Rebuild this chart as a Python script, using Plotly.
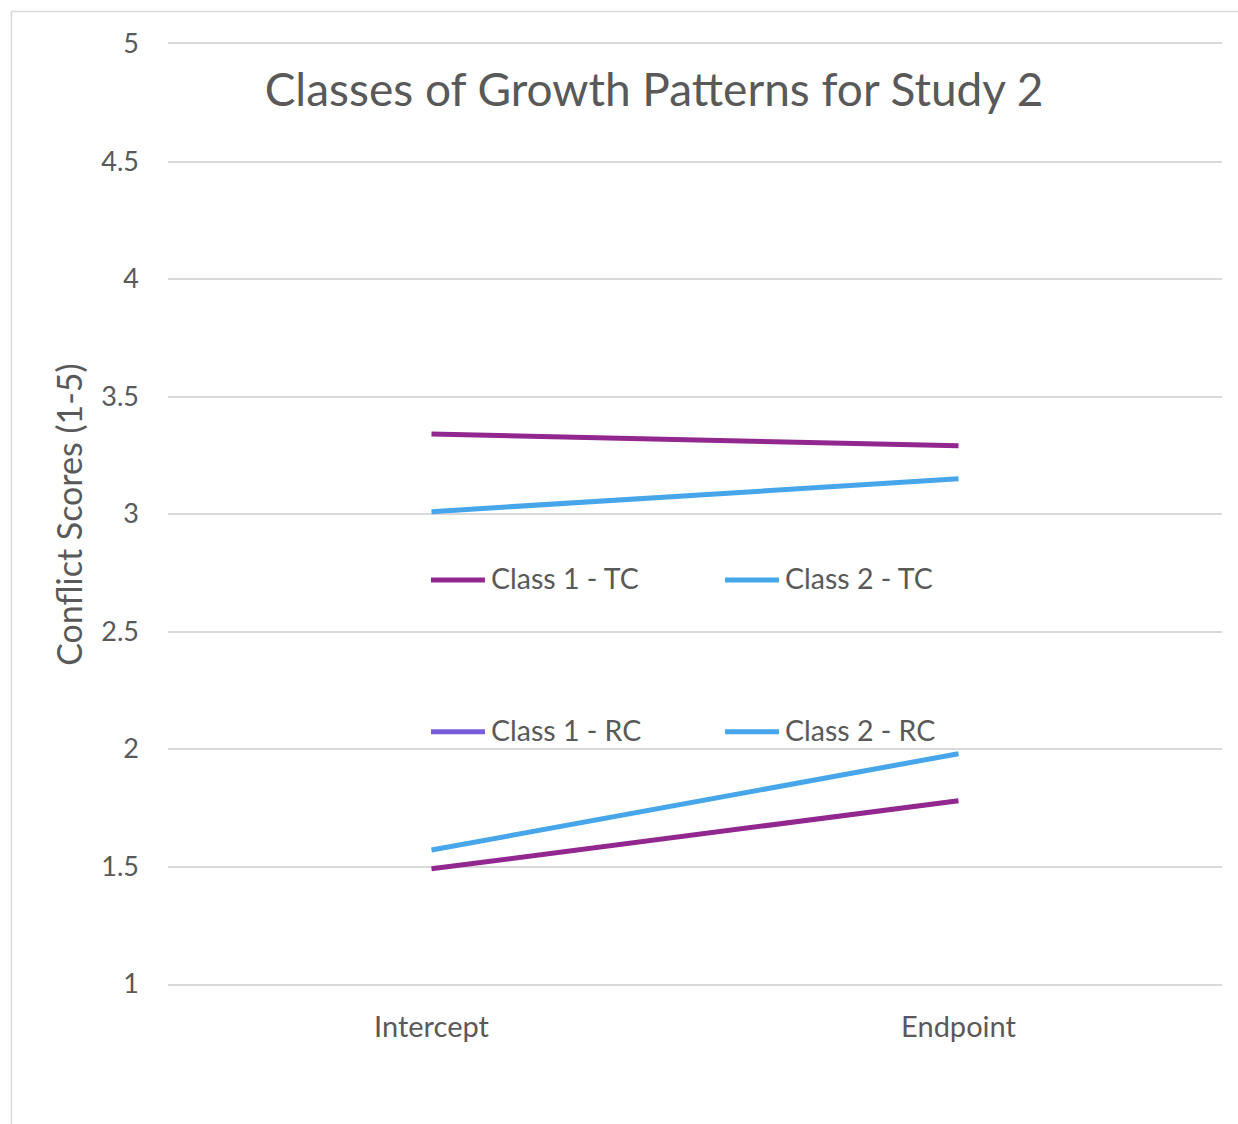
import plotly.graph_objects as go

# Categories and series values
categories = ["Intercept", "Endpoint"]
series_names = ["Class 1 - TC", "Class 2 - TC", "Class 1 - RC", "Class 2 - RC"]
class1_tc = [3.34, 3.29]
class2_tc = [3.01, 3.15]
class1_rc = [1.49, 1.78]
class2_rc = [1.57, 1.98]
y_ticks = [1, 1.5, 2, 2.5, 3, 3.5, 4, 4.5, 5]

PURPLE = "#92278F"
BLUE = "#47A6EA"
VIOLET = "#775CD9"
TEXT = "#595959"
GRID = "#D9D9D9"
FONT = "Lato"

series_values = [class1_tc, class2_tc, class1_rc, class2_rc]
line_colors = [PURPLE, BLUE, PURPLE, BLUE]
legend_colors = [PURPLE, BLUE, VIOLET, BLUE]

fig = go.Figure()
for name, vals, col in zip(series_names, series_values, line_colors):
    fig.add_trace(go.Scatter(
        x=categories, y=vals, mode="lines", name=name,
        line=dict(color=col, width=5), showlegend=False,
    ))

# Legend drawn inside the plot area: two rows, two columns
legend_cols = [0.2495, 0.5285]
legend_rows = [0.4298, 0.2683]
swatch_len = 0.0512
shapes = []
annotations = []
for i, (name, col) in enumerate(zip(series_names, legend_colors)):
    x0 = legend_cols[i % 2]
    y0 = legend_rows[i // 2]
    shapes.append(dict(type="line", xref="paper", yref="paper",
                       x0=x0, x1=x0 + swatch_len, y0=y0, y1=y0,
                       line=dict(color=col, width=5)))
    annotations.append(dict(xref="paper", yref="paper",
                            x=x0 + swatch_len + 0.004, y=y0 + 0.002,
                            xanchor="left", yanchor="middle", showarrow=False,
                            text=name, font=dict(family=FONT, size=28.5, color=TEXT)))

# Axis title
annotations.append(dict(xref="paper", yref="paper", x=-0.095, y=0.5,
                        xanchor="center", yanchor="middle", showarrow=False,
                        textangle=-90, text="Conflict Scores (1-5)",
                        font=dict(family=FONT, size=34, color=TEXT)))

# Chart border (left and top edges)
shapes.append(dict(type="line", xref="paper", yref="paper", x0=-0.1485, x1=-0.1485,
                   y0=-0.3, y1=1.0346, line=dict(color=GRID, width=1.5)))
shapes.append(dict(type="line", xref="paper", yref="paper", x0=-0.1485, x1=1.2,
                   y0=1.0346, y1=1.0346, line=dict(color=GRID, width=1.5)))

fig.update_layout(
    width=1238, height=1124,
    margin=dict(l=168, r=16, t=44, b=140),
    paper_bgcolor="white", plot_bgcolor="white",
    title=dict(text="Classes of Growth Patterns for Study 2",
               x=654 / 1238, xref="container", xanchor="center",
               y=1 - 90 / 1124, yref="container", yanchor="middle",
               font=dict(family=FONT, size=46, color=TEXT)),
    xaxis=dict(type="category", range=[-0.5, 1.5], showgrid=False,
               showline=True, mirror=True, linecolor=GRID, linewidth=1.5,
               ticks="", ticklabelstandoff=16,
               tickfont=dict(family=FONT, size=29, color=TEXT)),
    yaxis=dict(range=[1, 5], tickvals=y_ticks, ticktext=[f"{v:g}" for v in y_ticks],
               showgrid=True, gridcolor=GRID, gridwidth=1.5, zeroline=False,
               showline=False, ticks="", ticklabelstandoff=28,
               tickfont=dict(family=FONT, size=27, color=TEXT)),
    shapes=shapes, annotations=annotations,
    showlegend=False,
)

fig.write_html("out.html")
